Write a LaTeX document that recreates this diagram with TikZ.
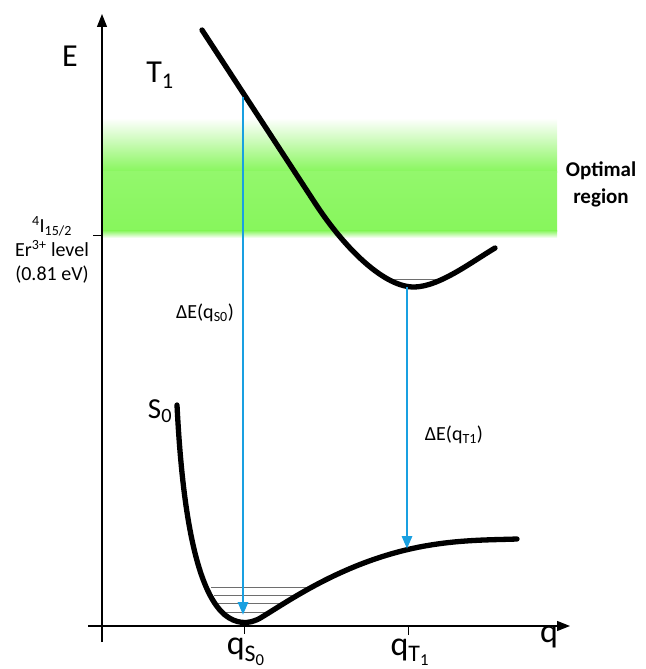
\documentclass[tikz,border=0pt]{standalone}
\usepackage{fontspec}
\setmainfont{Carlito}
\usetikzlibrary{arrows.meta}
\definecolor{optgreen}{RGB}{135,246,92}
\definecolor{arrblue}{RGB}{25,160,225}
\definecolor{levgray}{RGB}{110,110,110}
\tikzset{
  axis/.style={line width=1.3pt,-{Triangle[length=13pt,width=10pt]}},
  curve/.style={line width=5.3pt,line join=round,line cap=round},
  trans/.style={line width=2.9pt,arrblue,-{Triangle[length=13pt,width=10pt]}},
  vlev/.style={line width=1pt,levgray},
  lab/.style={inner sep=0pt,anchor=center},
}
\newcommand{\fs}[1]{\fontsize{#1}{#1}\selectfont}
\begin{document}
\begin{tikzpicture}[x=1pt,y=-1pt]
\useasboundingbox (0,0) rectangle (645,669);
% green optimal region
\shade[top color=white,bottom color=optgreen] (103,118) rectangle (557,172);
\shade[top color=optgreen!90!white,bottom color=optgreen] (103,171.5) rectangle (557,231);
\shade[top color=optgreen,bottom color=white] (103,230.5) rectangle (557,238);
% axes
\coordinate (ybot) at (102,642);
\coordinate (ytop) at (102,14);
\coordinate (xl) at (88,626);
\coordinate (xr) at (570,626);
\draw[axis] (ybot) -- (ytop);
\draw[axis] (xl) -- (xr);
% tick marks
\coordinate (tEr) at (93,235);
\coordinate (tEr2) at (102,235);
\draw[line width=1pt] (tEr) -- (tEr2);
\coordinate (tqs) at (244,626);
\coordinate (tqs2) at (244,634);
\coordinate (tqt) at (408,626);
\coordinate (tqt2) at (408,635);
\draw[line width=1pt] (tqs) -- (tqs2);
\draw[line width=1pt] (tqt) -- (tqt2);
% vibrational levels
\draw[vlev] (386,279) -- (442,279);
\draw[vlev] (211,587) -- (309,587);
\draw[vlev] (214,595) -- (296,595);
\draw[vlev] (218,603) -- (283,603);
\draw[vlev] (223,612) -- (268,612);
% T1 curve
\draw[curve] (202,30) -- (315,203) .. controls (345,249) and (385,288) .. (415,287) .. controls (440,286) and (470,263) .. (495,248);
% S0 curve
\draw[curve] (177,405) .. controls (182,505) and (195,590) .. (225,615) .. controls (235,623) and (248,626) .. (262,617) .. controls (290,600) and (340,565) .. (410,549) .. controls (452,539.4) and (490,540) .. (517,539);
% transitions
\coordinate (a1s) at (243,97);
\coordinate (a1e) at (243,615);
\coordinate (a2s) at (407,287);
\coordinate (a2e) at (407,549);
\draw[trans] (a1s) -- (a1e);
\draw[trans] (a2s) -- (a2e);
% labels
\node[lab] (E) at (70,56) {\fs{32}E};
\node[lab] (T1) at (160,75) {\fs{32}T\textsubscript{1}};
\node[lab] (S0) at (160,411) {\fs{29}S\textsubscript{0}};
\node[lab,align=center,font=\fontsize{20}{24}\selectfont] (er) at (52,250) {\textsuperscript{4}I\textsubscript{15/2}\\Er\textsuperscript{3+} level\\(0.81 eV)};
\node[lab,align=center,font=\fontsize{21}{27}\selectfont\bfseries] (opt) at (601,184) {Optimal\\region};
\node[lab] (dE1) at (205,313) {\fs{20}ΔE(q\textsubscript{S0})};
\node[lab] (dE2) at (454,435) {\fs{20}ΔE(q\textsubscript{T1})};
\node[lab] (qs) at (246,652) {\fs{34}q\textsubscript{S\textsubscript{0}}};
\node[lab] (qt) at (410,652) {\fs{34}q\textsubscript{T\textsubscript{1}}};
\node[lab] (q) at (549,637) {\fs{34}q};
\end{tikzpicture}
\end{document}
